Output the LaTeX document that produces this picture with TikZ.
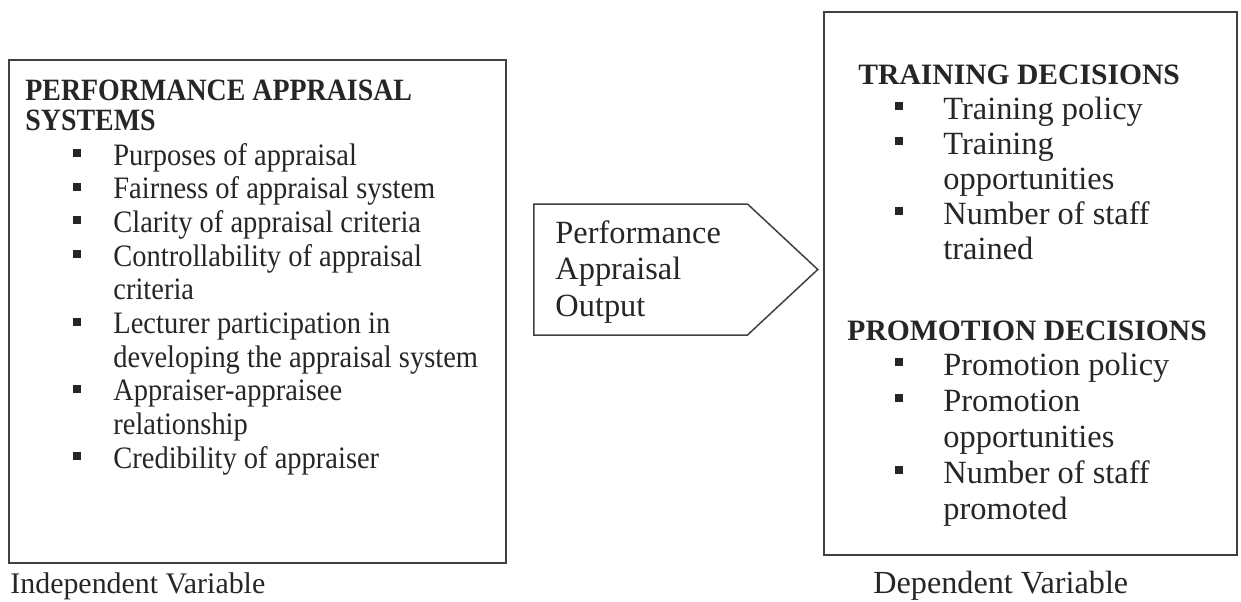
\documentclass[tikz,border=0pt]{standalone}
\usepackage{fontspec}
\setmainfont{Liberation Serif}
\newfontfamily\narrowhead[FakeStretch=0.9]{Liberation Serif}
\newfontfamily\narrowtxt[FakeStretch=0.913]{Liberation Serif}
\usetikzlibrary{shapes.symbols}

\definecolor{ink}{gray}{0.15}

\tikzset{
  frame/.style={draw=black!75, line width=0.75pt},
  bul/.style={rectangle, fill=ink, minimum size=4pt, inner sep=0pt},
  lefthead/.style={anchor=base west, inner sep=0pt, text=ink, font=\narrowhead\fontsize{15.5}{17}\selectfont\bfseries},
  lefttxt/.style={anchor=base west, inner sep=0pt, text=ink, font=\narrowtxt\fontsize{15.6}{17}\selectfont},
  righthead/.style={anchor=base west, inner sep=0pt, text=ink, font=\fontsize{14.8}{18}\selectfont\bfseries},
  righttxt/.style={anchor=base west, inner sep=0pt, text=ink, font=\fontsize{16.2}{18}\selectfont},
}

\begin{document}
\begin{tikzpicture}[x=0.5pt, y=-0.5pt]
    \useasboundingbox (0,0) rectangle (1241,601);

    % the three shapes
    \node(indep)[frame, anchor=north west, minimum width=248.5pt, minimum height=251.5pt] at (8,59) {};
    \node(dep)[frame, anchor=north west, minimum width=206.5pt, minimum height=271.5pt] at (823,11) {};
    \node(output)[frame, signal, signal to=east, signal pointer angle=86,
        anchor=west, minimum width=142pt, minimum height=65.5pt] at (533,269.5) {};

    % independent variable box
    \node(h1)[lefthead] at (25,100) {PERFORMANCE APPRAISAL};
    \node(h2)[lefthead] at (25,130) {SYSTEMS};

    \foreach \y/\t [count=\i] in {165/Purposes of appraisal, 198.7/Fairness of appraisal system,
        232.4/Clarity of appraisal criteria, 266.1/Controllability of appraisal, 299.8/criteria,
        333.5/Lecturer participation in, 367.2/developing the appraisal system,
        400.9/Appraiser-appraisee, 434.6/relationship, 468.3/Credibility of appraiser}
    {
        \node(a\i)[lefttxt] at (113,\y) {\t};
    }
    \foreach \y [count=\i] in {165, 198.7, 232.4, 266.1, 333.5, 400.9, 468.3}
    {
        \node(ba\i)[bul] at (77,\y-12) {};
    }

    % output arrow
    \node(o1)[righttxt] at (555,243) {Performance};
    \node(o2)[righttxt] at (555,279.5) {Appraisal};
    \node(o3)[righttxt] at (555,316) {Output};

    % dependent variable box
    \node(t0)[righthead] at (858,84) {TRAINING DECISIONS};
    \foreach \y/\t [count=\i] in {119/Training policy, 154/Training, 189/opportunities,
        224/Number of staff, 259/trained}
    {
        \node(t\i)[righttxt] at (943,\y) {\t};
    }
    \node(p0)[righthead] at (847,340) {PROMOTION DECISIONS};
    \foreach \y/\t [count=\i] in {375/Promotion policy, 411/Promotion, 447/opportunities,
        483/Number of staff, 519/promoted}
    {
        \node(p\i)[righttxt] at (943,\y) {\t};
    }
    \foreach \y [count=\i] in {119, 154, 224, 375, 411, 483}
    {
        \node(bd\i)[bul] at (899,\y-13) {};
    }

    \node(l1)[anchor=base west, inner sep=0pt, text=ink, font=\fontsize{14.95}{18}\selectfont] at (10,593) {Independent Variable};
    \node(l2)[anchor=base west, inner sep=0pt, text=ink, font=\fontsize{16.1}{18}\selectfont] at (873,593) {Dependent Variable};
\end{tikzpicture}
\end{document}
